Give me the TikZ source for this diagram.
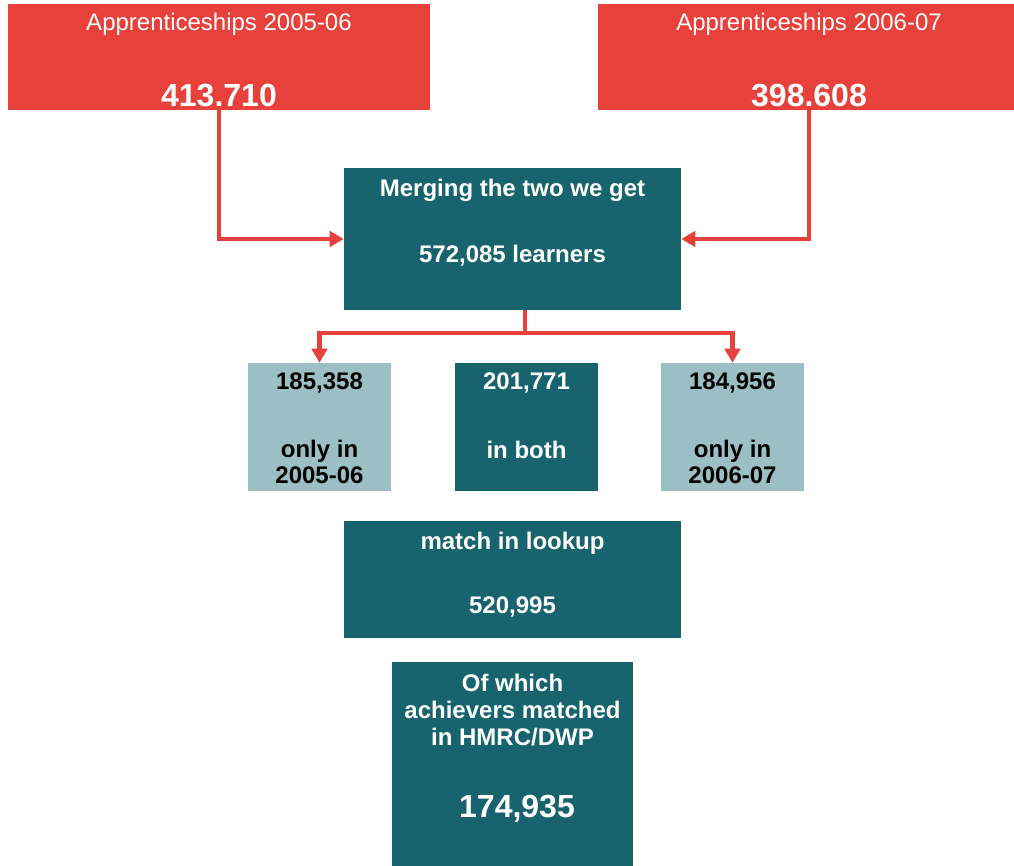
\documentclass[tikz,border=0pt]{standalone}
\usepackage{fontspec}
\setmainfont{Liberation Sans}
\usetikzlibrary{arrows.meta,positioning}
\definecolor{boxred}{HTML}{E8403A}
\definecolor{boxteal}{HTML}{17646E}
\definecolor{boxlight}{HTML}{9BBFC4}

\begin{document}
\begin{tikzpicture}[x=0.75pt,y=-0.75pt,
    redbox/.style={rectangle,fill=boxred,inner sep=0pt,minimum width=316.5pt,minimum height=79.5pt},
    tealbox/.style={rectangle,fill=boxteal,inner sep=0pt},
    lightbox/.style={rectangle,fill=boxlight,inner sep=0pt},
    small box/.style={minimum width=107.25pt,minimum height=96pt},
    plain txt/.style={text=white,inner sep=0pt,font=\fontsize{18}{20}\selectfont},
    white txt/.style={text=white,inner sep=0pt,align=center,font=\fontsize{18}{20}\selectfont\bfseries},
    black txt/.style={text=black,inner sep=0pt,align=center,font=\fontsize{18}{20}\selectfont\bfseries},
    big txt/.style={text=white,inner sep=0pt,font=\fontsize{24}{26}\selectfont\bfseries},
    link/.style={draw=boxred,line width=3.5pt,-{Triangle[length=10.5pt,width=11.5pt]}}]

  \useasboundingbox (0,0) rectangle (1014,866);

  % the two source years
  \node[redbox] (r1) at (219,57) {};
  \node[plain txt] (r1t) at (219,24) {Apprenticeships 2005-06};
  \node[big txt] (r1n) at (219,96) {413.710};

  \node[redbox] (r2) at (809,57) {};
  \node[plain txt] (r2t) at (809,24) {Apprenticeships 2006-07};
  \node[big txt] (r2n) at (809,96) {398.608};

  % merged
  \node[tealbox,minimum width=252.75pt,minimum height=106.5pt] (merge) at (512.5,239) {};
  \node[white txt] (merget) at (512.5,190) {Merging the two we get};
  \node[white txt] (mergen) at (512.5,256) {572,085 learners};

  % split
  \node[lightbox,small box] (only1) at (319.5,427) {};
  \node[black txt] (only1n) at (319.5,383) {185,358};
  \node[black txt] (only1t) at (319.5,462) {only in\\2005-06};

  \node[tealbox,small box] (both) at (526.5,427) {};
  \node[white txt] (bothn) at (526.5,383) {201,771};
  \node[white txt] (botht) at (526.5,450) {in both};

  \node[lightbox,small box] (only2) at (732.5,427) {};
  \node[black txt] (only2n) at (732.5,383) {184,956};
  \node[black txt] (only2t) at (732.5,462) {only in\\2006-07};

  % lookup and achievers
  \node[tealbox,minimum width=252.75pt,minimum height=87.75pt] (lookup) at (512.5,579.5) {};
  \node[white txt] (lookupt) at (512.5,543) {match in lookup};
  \node[white txt] (lookupn) at (512.5,607) {520,995};

  \node[tealbox,minimum width=180.75pt,minimum height=153pt] (achiev) at (512.5,764) {};
  \node[white txt] (achievt) at (512.5,710) {Of which\\achievers matched\\in HMRC/DWP};
  \node[big txt] (achievn) at (517,809) {174,935};

  % connectors
  \draw[link] (r1.south -| 219,0) |- (merge.west);
  \draw[link] (r2.south) |- (merge.east);

  \coordinate (split) at (525,333);
  \draw[draw=boxred,line width=3.5pt] (merge.south -| split) -- (split);
  \draw[link] (split) -| (only1.north);
  \draw[link] (split) -| (only2.north);
\end{tikzpicture}
\end{document}
